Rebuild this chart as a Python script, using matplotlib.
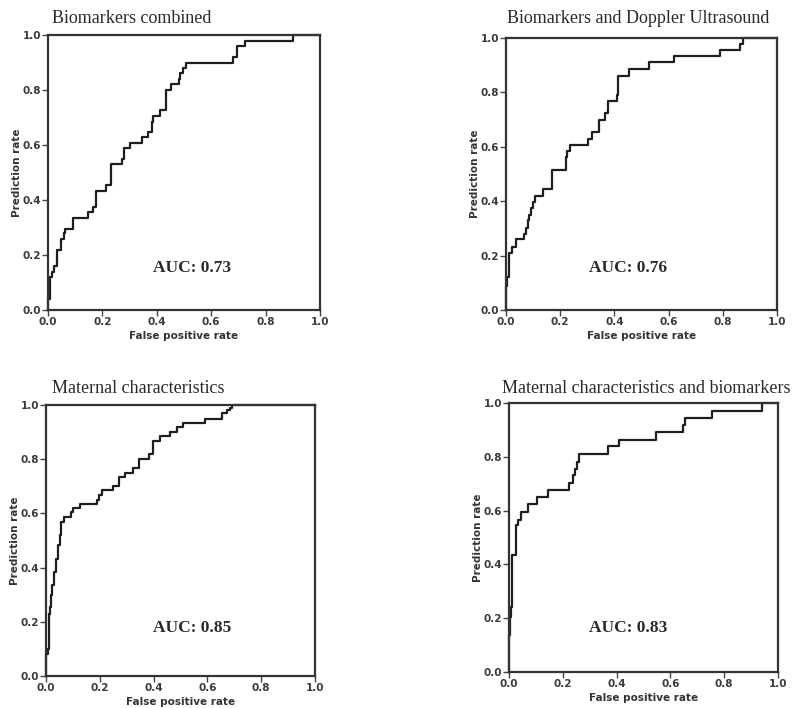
import matplotlib.pyplot as plt

# ROC curves
titles = ['Biomarkers combined', 'Biomarkers and Doppler Ultrasound',
          'Maternal characteristics', 'Maternal characteristics and biomarkers']
auc_values = [0.73, 0.76, 0.85, 0.83]

fpr_bio = [0, 0, 0.009, 0.015, 0.023, 0.033, 0.048, 0.058, 0.064, 0.092, 0.146, 0.164, 0.176,
           0.214, 0.233, 0.233, 0.272, 0.278, 0.280, 0.302, 0.345, 0.366, 0.383, 0.386, 0.412,
           0.433, 0.433, 0.452, 0.480, 0.486, 0.498, 0.506, 0.679, 0.694, 0.725, 0.902, 1.0]
tpr_bio = [0, 0.04, 0.12, 0.14, 0.16, 0.22, 0.26, 0.28, 0.295, 0.335, 0.356, 0.375, 0.433,
           0.453, 0.47, 0.53, 0.55, 0.57, 0.59, 0.608, 0.63, 0.648, 0.684, 0.706, 0.726,
           0.763, 0.80, 0.823, 0.84, 0.862, 0.88, 0.90, 0.92, 0.96, 0.98, 1.0, 1.0]

fpr_dop = [0, 0, 0.005, 0.010, 0.012, 0.021, 0.036, 0.066, 0.074, 0.080, 0.086, 0.092, 0.100,
           0.107, 0.138, 0.171, 0.220, 0.226, 0.236, 0.303, 0.319, 0.344, 0.365, 0.377, 0.408,
           0.412, 0.415, 0.455, 0.528, 0.619, 0.789, 0.865, 0.875, 1.0]
tpr_dop = [0, 0.09, 0.12, 0.165, 0.21, 0.233, 0.26, 0.28, 0.30, 0.33, 0.35, 0.374, 0.396,
           0.42, 0.444, 0.515, 0.562, 0.583, 0.607, 0.628, 0.653, 0.70, 0.724, 0.77, 0.79,
           0.84, 0.86, 0.886, 0.91, 0.932, 0.955, 0.978, 1.0, 1.0]

fpr_mat = [0, 0, 0.006, 0.012, 0.016, 0.019, 0.022, 0.029, 0.037, 0.043, 0.051, 0.056, 0.068,
           0.094, 0.099, 0.128, 0.189, 0.196, 0.208, 0.248, 0.270, 0.295, 0.322, 0.344, 0.384,
           0.396, 0.425, 0.462, 0.486, 0.511, 0.592, 0.654, 0.672, 0.684, 0.693, 1.0]
tpr_mat = [0, 0.08, 0.10, 0.23, 0.255, 0.30, 0.335, 0.384, 0.433, 0.485, 0.52, 0.569, 0.587,
           0.606, 0.62, 0.634, 0.651, 0.667, 0.686, 0.70, 0.735, 0.75, 0.768, 0.80, 0.819,
           0.868, 0.885, 0.90, 0.917, 0.935, 0.95, 0.969, 0.98, 0.988, 1.0, 1.0]

fpr_matbio = [0, 0, 0.004, 0.009, 0.012, 0.025, 0.027, 0.035, 0.046, 0.071, 0.104, 0.145, 0.224,
              0.239, 0.245, 0.251, 0.260, 0.369, 0.410, 0.547, 0.646, 0.655, 0.754, 0.940, 1.0]
tpr_matbio = [0, 0.136, 0.204, 0.24, 0.434, 0.458, 0.545, 0.566, 0.595, 0.623, 0.65, 0.678, 0.704,
              0.731, 0.756, 0.78, 0.81, 0.839, 0.864, 0.892, 0.917, 0.944, 0.97, 1.0, 1.0]

curvas = [(fpr_bio, tpr_bio), (fpr_dop, tpr_dop), (fpr_mat, tpr_mat), (fpr_matbio, tpr_matbio)]

W, H = 797, 708
fig = plt.figure(figsize=(W / 100, H / 100), dpi=100)

# axes boxes in pixels: left, top, right, bottom
caixas = [(48, 35, 320, 310), (506, 38, 777, 310), (46, 405, 315, 676), (509, 403, 778, 672)]
titulo_pos = [(52, 23), (507, 23), (52, 393), (502, 393)]
auc_pos = [(0.53, 0.153), (0.45, 0.155), (0.543, 0.177), (0.442, 0.164)]

escuro = '#2a2a2a'
for i in range(4):
    l, t, r, b = caixas[i]
    ax = fig.add_axes([l / W, 1 - b / H, (r - l) / W, (b - t) / H])
    fpr, tpr = curvas[i]
    ax.step(fpr, tpr, where='post', color='#1e1e1e', linewidth=1.6, clip_on=False)
    ax.set_xlim(0, 1)
    ax.set_ylim(0, 1)
    ticks = [0, 0.2, 0.4, 0.6, 0.8, 1.0]
    ax.set_xticks(ticks)
    ax.set_yticks(ticks)
    ax.set_xticklabels(['%.1f' % v for v in ticks])
    ax.set_yticklabels(['%.1f' % v for v in ticks])
    ax.tick_params(direction='out', length=4, width=1, color='#444444', pad=1,
                   labelsize=7.5, labelcolor='#3a3a3a')
    for lab in ax.get_xticklabels() + ax.get_yticklabels():
        lab.set_fontweight('bold')
    for s in ax.spines.values():
        s.set_linewidth(1.6)
        s.set_color('#333333')
    ax.set_xlabel('False positive rate', fontsize=7.5, fontweight='bold', color='#333333', labelpad=3)
    ax.set_ylabel('Prediction rate', fontsize=7.5, fontweight='bold', color='#333333', labelpad=0)
    ax.text(auc_pos[i][0], auc_pos[i][1], 'AUC: %.2f' % auc_values[i], transform=ax.transAxes,
            ha='center', va='center', fontsize=12.5, fontweight='bold', family='Liberation Serif',
            color=escuro)
    tx, ty = titulo_pos[i]
    fig.text(tx / W, 1 - ty / H, titles[i], ha='left', va='baseline', fontsize=13,
             family='Liberation Serif', color=escuro)

fig.savefig('out.png', dpi=100)
